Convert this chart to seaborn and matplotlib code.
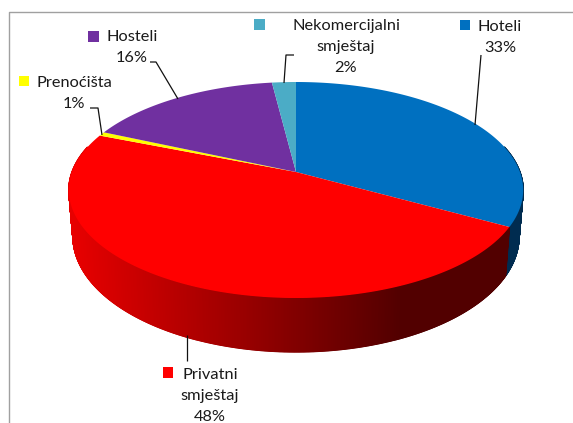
import numpy as np
import matplotlib
matplotlib.use("Agg")
import matplotlib.pyplot as plt
import seaborn as sns

categories = ["Hoteli", "Privatni\nsmještaj", "Prenoćišta", "Hosteli", "Nekomercijalni\nsmještaj"]
shares = [33, 48, 0.6, 16.4, 2]
colors = ["#0070C0", "#FF0000", "#FFFF00", "#7030A0", "#4BACC6"]
side_light = ["#0060A8", "#E80000", "#C8C800", "#5A2880", "#3A8AA0"]
side_dark = ["#002C50", "#520000", "#505000", "#301050", "#205060"]

sns.set_theme(style="white")
plt.rcParams["font.family"] = ["Lato", "DejaVu Sans"]

CX, CY, AX_R, BY_R, PERSP, DEPTH = 296, 172, 224, 105, 1 / 6, 45
BOTTOM_SCALE = 0.982


def project(theta, drop=False):
    w = 1 + PERSP * np.cos(theta)
    x = AX_R * np.sin(theta) / w
    y = BY_R * np.cos(theta) / w
    if drop:
        return CX + x * BOTTOM_SCALE, CY - y + DEPTH / w
    return CX + x, CY - y


fig = plt.figure(figsize=(5.73, 4.23), dpi=100)
ax = fig.add_axes([0, 0, 1, 1])
ax.set_xlim(0, 573)
ax.set_ylim(423, 0)
ax.axis("off")

edges = np.cumsum([0] + shares) / sum(shares) * 2 * np.pi

# side wall: narrow strips, shaded left to right
ramp = {i: sns.blend_palette([side_light[i], side_dark[i]], 256) for i in range(len(shares))}
for i in range(len(shares)):
    t = np.linspace(edges[i], edges[i + 1], max(int(shares[i] * 20), 4))
    for a, b in zip(t[:-1], t[1:]):
        if np.cos((a + b) / 2) > 0.25:
            continue
        xa, ya = project(a)
        xb, yb = project(b)
        xa2, ya2 = project(a, True)
        xb2, yb2 = project(b, True)
        mid = (xa + xb) / 2
        idx = int(np.clip((mid - 68) / (400 - 68), 0, 1) * 255)
        c = ramp[i][idx] if i != 0 else ramp[i][255]
        ax.fill([xa, xb, xb2, xa2], [ya, yb, yb2, ya2], color=c, lw=0.9, zorder=2)

# top face
for i in range(len(shares)):
    t = np.linspace(edges[i], edges[i + 1], max(int(shares[i] * 4), 6))
    x, y = project(t)
    ax.fill(np.r_[CX, x], np.r_[CY, y], color=colors[i], lw=0, zorder=3)

# leader lines
leaders = [
    ([481, 475], [55, 125]),
    ([187, 187], [335, 361]),
    ([90, 98, 102], [108, 108, 135]),
    ([150, 156, 178], [62, 62, 99]),
    ([294, 286, 284], [55, 55, 83]),
]
for lx, ly in leaders:
    ax.plot(lx, ly, color="#111111", lw=0.9, zorder=4, solid_capstyle="butt")

# labels
label_xy = [(500, 27), (210, 375), (74, 83), (132, 37), (346, 26)]
key_xy = [(465, 25), (168, 372.5), (24, 81), (93.5, 36.5), (259.5, 24.5)]
LINE = 21.2
for i, name in enumerate(categories):
    lines = name.split("\n") + [f"{round(shares[i])}%"]
    lx, ly = label_xy[i]
    for j, s in enumerate(lines):
        ax.text(lx, ly + j * LINE, s, ha="center", va="center", fontsize=11.8,
                color="#1a1a1a", zorder=5)
    kx, ky = key_xy[i]
    ax.fill([kx - 5.3, kx + 5.3, kx + 5.3, kx - 5.3],
            [ky - 5.3, ky - 5.3, ky + 5.3, ky + 5.3], color=colors[i], lw=0, zorder=5)

# chart frame
ax.plot([8.5, 8.5, 573], [423, 12.5, 12.5], color="#A0A0A0", lw=1.0, zorder=1)

fig.savefig("out.png", dpi=100, facecolor="white")
